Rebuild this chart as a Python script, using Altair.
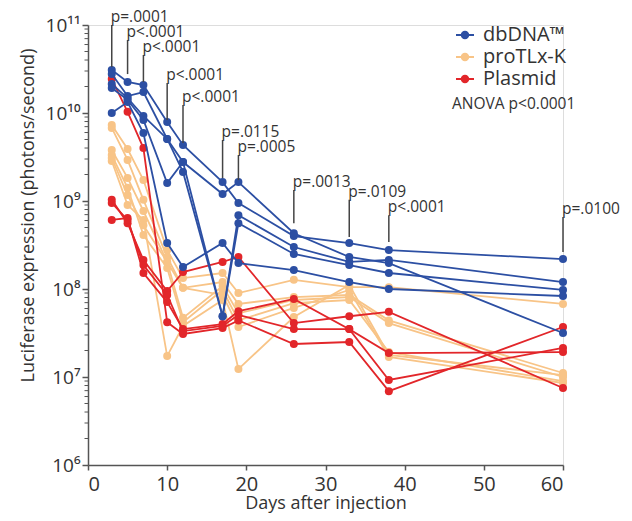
import altair as alt
import pandas as pd

# ---------------- data ----------------
days = [3, 5, 7, 10, 12, 17, 19, 26, 33, 38, 60]

groups = ["dbDNA™", "proTLx-K", "Plasmid"]
colors = ["#2c4fa3", "#f8c487", "#e2262a"]

dbdna_1 = [3.08e10, 2.25e10, 2.08e10, 7.9e9, 4.33e9, 1.64e9, 9.5e8, 4.0e8, 3.33e8, 2.77e8, 2.19e8]
dbdna_2 = [2.77e10, 1.56e10, 1.73e10, 5.07e9, 2.77e9, 1.2e9, 1.64e9, 4.3e8, 2.31e8, 1.97e8, 3.16e7]
dbdna_3 = [2.14e10, 1.48e10, 9.25e9, 5.07e9, 2.14e9, 4.9e7, 6.9e8, 3.0e8, 2.03e8, 2.14e8, 1.2e8]
dbdna_4 = [1.92e10, 1.41e10, 8.33e9, 1.6e9, 2.77e9, 4.9e7, 5.6e8, 2.5e8, 1.87e8, 1.52e8, 9.75e7]
dbdna_5 = [1.0e10, 1.33e10, 5.93e9, 3.33e8, 1.78e8, 3.33e8, 1.97e8, 1.64e8, 1.2e8, 1.0e8, 8.33e7]

protlx_1 = [7.3e9, 3.9e9, 1.73e9, 2.77e8, 1.33e8, 1.52e8, 9.0e7, 1.27e8, 1.05e8, 1.05e8, 6.76e7]
protlx_2 = [6.76e9, 2.93e9, 1.03e9, 2.31e8, 1.03e8, 1.2e8, 6.76e7, 8.1e7, 8.55e7, 4.4e7, 1.11e7]
protlx_3 = [3.8e9, 1.83e9, 7.7e8, 2.03e8, 4.7e7, 1.08e8, 5.3e7, 7.5e7, 8.1e7, 4.1e7, 1.0e7]
protlx_4 = [3.33e9, 1.41e9, 4.1e8, 1.73e8, 4.2e7, 9.75e7, 4.4e7, 6.9e7, 7.5e7, 1.92e7, 9.0e6]
protlx_5 = [2.85e9, 9.0e8, 6.1e8, 1.73e7, 3.8e7, 7.5e7, 1.23e7, 4.8e7, 1.11e8, 1.78e7, 1.05e7]
protlx_6 = [3.08e9, 1.17e9, 5.3e8, 2.03e8, 1.03e8, 8.55e7, 3.7e7, 6.1e7, 9.75e7, 1.69e7, 8.55e6]

plasmid_1 = [2.43e10, 1.03e10, 4.0e9, 4.2e7, 3.08e7, 3.6e7, 4.4e7, 2.37e7, 2.5e7, 6.9e6, 3.7e7]
plasmid_2 = [1.03e9, 5.6e8, 2.14e8, 9.5e7, 1.56e8, 2.03e8, 2.31e8, 4.1e7, 4.9e7, 5.5e7, 7.5e6]
plasmid_3 = [6.1e8, 6.4e8, 1.52e8, 7.1e7, 3.5e7, 4.0e7, 5.6e7, 7.7e7, 3.5e7, 9.25e6, 2.14e7]
plasmid_4 = [9.5e8, 6.1e8, 1.87e8, 8.55e7, 3.33e7, 3.8e7, 5.07e7, 3.5e7, 3.5e7, 1.87e7, 1.92e7]

# p-value annotations
p_days = [3, 5, 7, 10, 12, 17, 19, 26, 33, 38, 60]
p_labels = ["p=.0001", "p<.0001", "p<.0001", "p<.0001", "p<.0001", "p=.0115",
            "p=.0005", "p=.0013", "p=.0109", "p<.0001", "p=.0100"]
p_top = [1.0e11, 6.76e10, 4.56e10, 2.19e10, 1.23e10, 4.93e9, 3.33e9, 1.33e9, 1.03e9, 6.9e8, 6.6e8]
p_bottom = [3.33e10, 2.77e10, 2.25e10, 8.3e9, 4.56e9, 1.82e9, 1.73e9, 5.6e8, 3.9e8, 3.42e8, 2.63e8]

anova_text = ["ANOVA p<0.0001"]

x_ticks = [0, 10, 20, 30, 40, 50, 60]
y_ticks = [1e6, 1e7, 1e8, 1e9, 1e10, 1e11]
y_tick_labels = ["10⁶", "10⁷", "10⁸", "10⁹", "10¹⁰", "10¹¹"]
minor_mults = [2, 3, 4, 5, 6, 7, 8, 9]

# ---------------- tables ----------------
series = {
    "proTLx-K": [protlx_1, protlx_2, protlx_3, protlx_4, protlx_5, protlx_6],
    "Plasmid": [plasmid_1, plasmid_2, plasmid_3, plasmid_4],
    "dbDNA™": [dbdna_1, dbdna_2, dbdna_3, dbdna_4, dbdna_5],
}
rows = []
for g, lst in series.items():
    for i, s in enumerate(lst):
        for d, v in zip(days, s):
            rows.append({"group": g, "mouse": f"{g}-{i}", "day": d, "value": v})
df = pd.DataFrame(rows)

pdf = pd.DataFrame({"day": p_days, "label": p_labels, "top": p_top, "bottom": p_bottom})
minor = pd.DataFrame({"v": [m * 10 ** e for e in range(6, 11) for m in minor_mults]})
anova = pd.DataFrame({"t": anova_text})

FONT = "Open Sans"
TXT = "#333333"
AX = "#555555"

x_scale = alt.Scale(domain=[0, 60], nice=False)
y_scale = alt.Scale(type="log", domain=[1e6, 1e11], nice=False)
color_scale = alt.Scale(domain=groups, range=colors)

label_expr = "[" + ",".join(f"'{t}'" for t in y_tick_labels) + "][round(log(datum.value)/LN10) - 6]"

x_axis = alt.Axis(values=x_ticks, title="Days after injection", grid=False,
                  labelFontSize=20, labelFont=FONT, labelColor=TXT, labelPadding=4,
                  tickSize=5, tickColor=AX, tickWidth=1.5, domainColor=AX, domainWidth=1.5,
                  titleFont=FONT, titleFontSize=18, titleFontWeight="normal", titleColor=TXT,
                  titleBaseline="alphabetic", titleY=43)
y_axis = alt.Axis(values=y_ticks, labelExpr=label_expr, title="Luciferase expression (photons/second)",
                  grid=False, labelFontSize=19, labelFont=FONT, labelColor=TXT, labelPadding=2,
                  tickSize=6, tickColor=AX, tickWidth=1.5, domainColor=AX, domainWidth=1.5,
                  titleFont=FONT, titleFontSize=18, titleFontWeight="normal", titleColor=TXT,
                  titleBaseline="alphabetic", titleX=-55, titleY=190, titleAlign="center")

PATH = "M-1,-0.1H1V0.1H-1Z M0.47,0A0.47,0.47,0,1,1,-0.47,0A0.47,0.47,0,1,1,0.47,0Z"
legend = alt.Legend(title=None, orient="none", legendX=367, legendY=0, padding=0,
                    symbolType=PATH, symbolSize=324, symbolStrokeWidth=0, symbolOpacity=1,
                    labelFontSize=20, labelFont=FONT, labelColor=TXT, labelOffset=8, rowPadding=2)

base = alt.Chart(df)
layers = []

# minor ticks on the y axis
layers.append(alt.Chart(minor).mark_rule(color=AX, strokeWidth=1).encode(
    y=alt.Y("v:Q", scale=y_scale, axis=y_axis), x=alt.value(-3.5), x2=alt.value(0)))

for g in ["proTLx-K", "Plasmid", "dbDNA™"]:
    c = colors[groups.index(g)]
    sub = base.transform_filter(alt.datum.group == g)
    layers.append(sub.mark_line(strokeWidth=1.8).encode(
        x=alt.X("day:Q", scale=x_scale, axis=x_axis),
        y=alt.Y("value:Q", scale=y_scale, axis=y_axis),
        detail="mouse:N",
        color=alt.value(c),
        order="day:Q"))
    layers.append(sub.mark_circle(size=64, opacity=1).encode(
        x=alt.X("day:Q", scale=x_scale, axis=x_axis),
        y=alt.Y("value:Q", scale=y_scale, axis=y_axis),
        color=alt.Color("group:N", scale=color_scale, legend=legend)))

# p-value annotations
layers.append(alt.Chart(pdf).mark_rule(color="#444444", strokeWidth=1.5).encode(
    x=alt.X("day:Q", scale=x_scale, axis=x_axis),
    y=alt.Y("top:Q", scale=y_scale, axis=y_axis), y2="bottom:Q"))
layers.append(alt.Chart(pdf).mark_text(align="left", baseline="alphabetic", dy=-3, dx=-1,
                                       font=FONT, fontSize=15.5, color=TXT).encode(
    x=alt.X("day:Q", scale=x_scale, axis=x_axis),
    y=alt.Y("top:Q", scale=y_scale, axis=y_axis), text="label:N"))

layers.append(alt.Chart(anova).mark_text(align="left", baseline="alphabetic", font=FONT,
                                         fontSize=15.5, color=TXT).encode(
    x=alt.value(364), y=alt.value(84), text="t:N"))

chart = alt.layer(*layers).properties(
    width=475, height=440,
    autosize=alt.AutoSizeParams(type="none"),
    padding={"left": 80, "top": 17, "right": 61, "bottom": 48},
).configure_view(stroke=None).configure(background="white")

chart.save("out.html", embed_options={"renderer": "svg", "actions": False})
